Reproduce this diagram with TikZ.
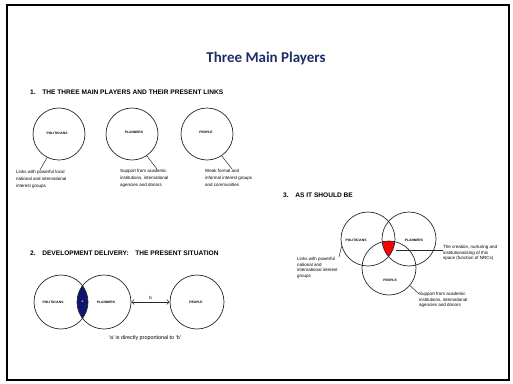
\documentclass[tikz,border=0pt]{standalone}
\usepackage{fontspec}
\setmainfont{Liberation Sans}
\newfontfamily\titlefont{Carlito}
\usetikzlibrary{arrows.meta}
\definecolor{titleblue}{RGB}{31,45,100}
\definecolor{lensblue}{RGB}{12,22,110}
\definecolor{inkgray}{RGB}{40,40,40}
\begin{document}
\begin{tikzpicture}[x=1pt,y=-1pt,
  player/.style={circle,draw=inkgray,line width=0.7pt,minimum size=52pt,inner sep=0pt},
  player3/.style={player,minimum size=54pt},
  plabel/.style={inner sep=0pt,font=\fontsize{3.3}{4}\selectfont\bfseries},
  heading/.style={anchor=west,inner sep=0pt,font=\fontsize{6.6}{8}\selectfont\bfseries},
  note/.style={anchor=north west,inner sep=0pt,align=left,font=\fontsize{4.5}{6.8}\selectfont},
  note3/.style={note,font=\fontsize{4.5}{5.6}\selectfont},
  leader/.style={draw=inkgray,line width=0.5pt},
]
\useasboundingbox (0,0) rectangle (513,383);
\draw[line width=1.2pt] (7,5) rectangle (509,380);

\node[font=\titlefont\fontsize{15}{18}\selectfont\bfseries,text=titleblue] (title) at (266,58) {Three Main Players};

% ---- Section 1
\node[heading] (h1) at (30,92) {1.\quad THE THREE MAIN PLAYERS AND THEIR PRESENT LINKS};
\node[player] (a1) at (59,134) {};
\node[player] (a2) at (132,134) {};
\node[player] (a3) at (207,134) {};
\node[plabel] (la1) at (57,133) {POLITICIANS};
\node[plabel] (la2) at (134,132) {PLANNERS};
\node[plabel] (la3) at (206,132) {PEOPLE};
\node[note] (n1) at (16,170) {Links with powerful local\\national and international\\interest groups};
\node[note] (n2) at (120,169) {Support from academic\\institutions, international\\agencies and donors};
\node[note] (n3) at (205,169) {Weak formal and\\informal interest groups\\and communities};
\coordinate (e1) at (40,170);
\coordinate (e2) at (157,169);
\coordinate (e3) at (232,169);
\draw[leader] (a1.243) -- (e1);
\draw[leader] (a2.304) -- (e2);
\draw[leader] (a3.304) -- (e3);

% ---- Section 2
\node[heading] (h2) at (30,253) {2.\quad DEVELOPMENT DELIVERY:\quad THE PRESENT SITUATION};
\coordinate (c1) at (61,302);
\coordinate (c2) at (104,302);
\begin{scope}
  \clip (c1) circle[radius=27pt];
  \fill[lensblue] (c2) circle[radius=27pt];
\end{scope}
\node[player3] (d1) at (c1) {};
\node[player3] (d2) at (c2) {};
\node[player3] (d3) at (197,302) {};
\node[plabel] (ld1) at (53,302) {POLITICIANS};
\node[plabel] (ld2) at (106,302) {PLANNERS};
\node[plabel] (ld3) at (196,302) {PEOPLE};
\node[plabel,text=white!80!lensblue] (la) at (82.5,302) {a};
\draw[leader,{Straight Barb[length=2.5pt,width=5pt]}-{Straight Barb[length=2.5pt,width=5pt]}] (d2.east) -- (d3.west)
  node[midway,above=2pt,inner sep=0pt,font=\fontsize{4.5}{5}\selectfont] (b) {b};
\node[inner sep=0pt,font=\fontsize{5.4}{6}\selectfont] (cap) at (145,338) {`a' is directly proportional to `b'};

% ---- Section 3
\node[heading] (h3) at (283,195) {3.\quad AS IT SHOULD BE};
\coordinate (cL) at (368,239);
\coordinate (cR) at (409,239);
\coordinate (cB) at (389,268);
\begin{scope}
  \clip (cL) circle[radius=27pt];
  \clip (cR) circle[radius=27pt];
  \fill[red] (cB) circle[radius=27pt];
\end{scope}
\node[player3] (L) at (cL) {};
\node[player3] (R) at (cR) {};
\node[player3] (B) at (cB) {};
\node[plabel] (lL) at (356,240) {POLITICIANS};
\node[plabel] (lR) at (414,240) {PLANNERS};
\node[plabel] (lB) at (390,280) {PEOPLE};
\node[note3] (n4) at (297,257) {Links with powerful\\national and\\international interest\\groups};
\node[note3] (n5) at (443,245) {The creation, nurturing and\\institutionalizing of this\\space (function of NRCs)};
\node[note3] (n6) at (419,292) {Support from academic\\institutions, international\\agencies and donors};
\coordinate (e4) at (339,257);
\coordinate (tri) at (396,250);
\coordinate (e6) at (419,294);
\draw[leader] (L.195) -- (e4);
\draw[leader] (tri) -- (tri -| n5.west);
\draw[leader] (B.320) -- (e6);
\end{tikzpicture}
\end{document}
